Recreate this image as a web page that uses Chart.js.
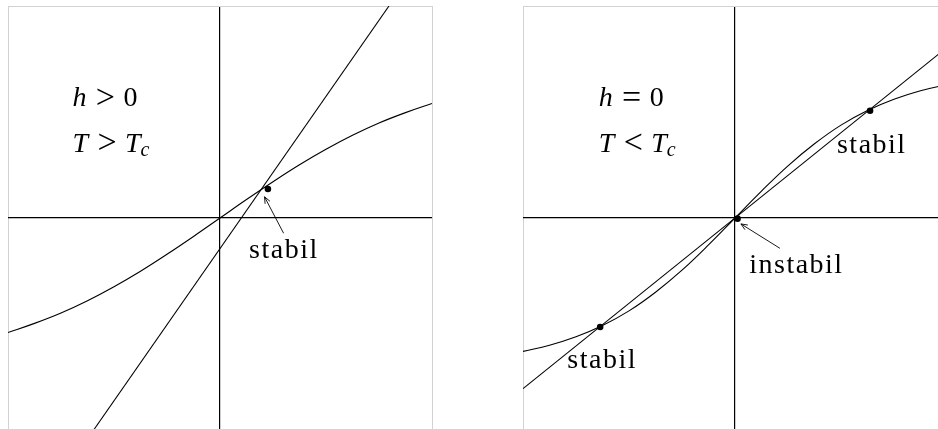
<!DOCTYPE html>
<html>
<head>
<meta charset="utf-8">
<script src="https://cdn.jsdelivr.net/npm/chart.js@4/dist/chart.umd.min.js"></script>
<style>
  html, body { margin: 0; padding: 0; background: #fff; width: 938px; height: 429px; overflow: hidden; }
  canvas { position: absolute; top: 2px; }
  #links { left: 4px; }
  #rechts { left: 519px; }
</style>
</head>
<body>
<canvas id="links" width="432" height="432"></canvas>
<canvas id="rechts" width="432" height="432"></canvas>
<script>
// linkes Bild: h > 0, T > Tc
const hotX = [-1, -0.875, -0.75, -0.625, -0.5, -0.375, -0.25, -0.125, 0, 0.125, 0.25, 0.375, 0.5, 0.625, 0.75, 0.875, 1];
const hotY = [-0.54, -0.497, -0.448, -0.39, -0.324, -0.251, -0.171, -0.087, 0, 0.087, 0.171, 0.251, 0.324, 0.39, 0.448, 0.497, 0.54];
const hotLineX = [-0.596, 0.797];
const hotLineY = [-1.0, 1.0];
const hotFixX = [0.226];
const hotFixY = [0.137];

// rechtes Bild: h = 0, T < Tc
const coldX = [-1, -0.875, -0.75, -0.625, -0.5, -0.375, -0.25, -0.125, 0, 0.125, 0.25, 0.375, 0.5, 0.625, 0.75, 0.875, 1];
const coldY = [-0.629, -0.6, -0.56, -0.507, -0.438, -0.35, -0.246, -0.127, 0, 0.127, 0.246, 0.35, 0.438, 0.507, 0.56, 0.6, 0.629];
const coldLineX = [-1, 1];
const coldLineY = [-0.805, 0.805];
const coldFixX = [-0.636, 0.012, 0.637];
const coldFixY = [-0.514, -0.003, 0.506];

// Beschriftungen (Datenkoordinaten, linke Grundlinie)
const hotTexts = [
  { x: -0.696, y: 0.528, math: ['i:h', 'op:>', 'r:0'] },
  { x: -0.696, y: 0.313, math: ['i:T', 'op:>', 'i:T', 'sub:c'] },
  { x: 0.137, y: -0.187, word: 'stabil' }
];
const hotArrows = [[0.300, -0.072, 0.210, 0.100]];

const coldTexts = [
  { x: -0.643, y: 0.528, math: ['i:h', 'op:=', 'r:0'] },
  { x: -0.643, y: 0.313, math: ['i:T', 'op:<', 'i:T', 'sub:c'] },
  { x: 0.481, y: 0.308, word: 'stabil' },
  { x: -0.791, y: -0.708, word: 'stabil' },
  { x: 0.067, y: -0.261, word: 'instabil' }
];
const coldArrows = [[0.212, -0.143, 0.028, -0.028]];

const FONT = '"Liberation Serif", "DejaVu Serif", serif';
const SIZE = 28;
const OP_SIZE = 34;

const pts = (xs, ys) => xs.map((x, i) => ({ x, y: ys[i] }));

const notes = {
  id: 'notes',
  afterDatasetsDraw(chart, args, opts) {
    const { ctx, scales: { x, y } } = chart;
    ctx.save();
    ctx.fillStyle = '#000';
    ctx.strokeStyle = '#000';
    ctx.textBaseline = 'alphabetic';
    ctx.textAlign = 'left';

    (opts.arrows || []).forEach(a => {
      const x0 = x.getPixelForValue(a[0]), y0 = y.getPixelForValue(a[1]);
      const x1 = x.getPixelForValue(a[2]), y1 = y.getPixelForValue(a[3]);
      const ang = Math.atan2(y1 - y0, x1 - x0);
      ctx.lineWidth = 0.9;
      ctx.beginPath();
      ctx.moveTo(x0, y0);
      ctx.lineTo(x1, y1);
      ctx.moveTo(x1 - 7 * Math.cos(ang - 0.4), y1 - 7 * Math.sin(ang - 0.4));
      ctx.lineTo(x1, y1);
      ctx.lineTo(x1 - 7 * Math.cos(ang + 0.4), y1 - 7 * Math.sin(ang + 0.4));
      ctx.stroke();
    });

    (opts.texts || []).forEach(t => {
      let px = x.getPixelForValue(t.x);
      const py = y.getPixelForValue(t.y);
      if (t.word) {
        ctx.font = SIZE + 'px ' + FONT;
        ctx.letterSpacing = '1.5px';
        ctx.fillText(t.word, px, py);
        ctx.letterSpacing = '0px';
        return;
      }
      t.math.forEach(tok => {
        const [kind, s] = tok.split(':');
        if (kind === 'i') {
          ctx.font = 'italic ' + SIZE + 'px ' + FONT;
          ctx.fillText(s, px, py);
          px += ctx.measureText(s).width + 1;
        } else if (kind === 'sub') {
          ctx.font = 'italic ' + Math.round(SIZE * 0.72) + 'px ' + FONT;
          ctx.fillText(s, px - 1, py + 4);
          px += ctx.measureText(s).width;
        } else if (kind === 'op') {
          // Relationszeichen etwas größer, wie im Formelsatz
          ctx.font = OP_SIZE + 'px ' + FONT;
          px += SIZE * 0.3;
          ctx.fillText(s, px, py + 1.5);
          px += ctx.measureText(s).width + SIZE * 0.3;
        } else {
          ctx.font = SIZE + 'px ' + FONT;
          ctx.fillText(s, px, py);
          px += ctx.measureText(s).width;
        }
      });
    });
    ctx.restore();
  }
};

function axisOpts() {
  return {
    type: 'linear',
    min: -1,
    max: 1,
    ticks: { display: false, stepSize: 1 },
    border: { display: false },
    grid: {
      drawTicks: false,
      color: c => c.tick.value === 0 ? '#000' : '#d2d2d2',
      lineWidth: c => c.tick.value === 0 ? 1.2 : 1
    }
  };
}

function makeChart(id, curve, line, fix, texts, arrows) {
  new Chart(document.getElementById(id), {
    type: 'scatter',
    data: {
      datasets: [
        {
          data: curve, showLine: true, borderColor: '#000', borderWidth: 1.1,
          pointRadius: 0, tension: 0.4
        },
        {
          data: line, showLine: true, borderColor: '#000', borderWidth: 1.1,
          pointRadius: 0
        },
        {
          data: fix, showLine: false, pointRadius: 3.3,
          backgroundColor: '#000', borderColor: '#000', borderWidth: 0
        }
      ]
    },
    options: {
      responsive: false,
      animation: false,
      layout: { padding: 0 },
      plugins: {
        legend: { display: false },
        tooltip: { enabled: false },
        notes: { texts, arrows }
      },
      scales: { x: axisOpts(), y: axisOpts() }
    },
    plugins: [notes]
  });
}

makeChart('links', pts(hotX, hotY), pts(hotLineX, hotLineY), pts(hotFixX, hotFixY), hotTexts, hotArrows);
makeChart('rechts', pts(coldX, coldY), pts(coldLineX, coldLineY), pts(coldFixX, coldFixY), coldTexts, coldArrows);
</script>
</body>
</html>
